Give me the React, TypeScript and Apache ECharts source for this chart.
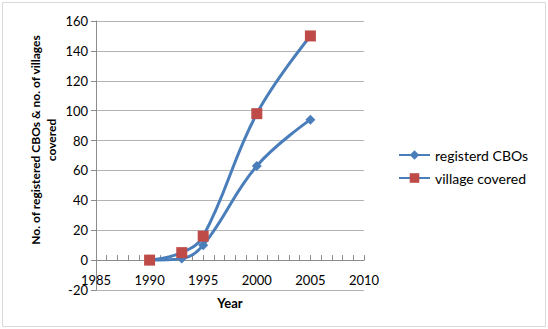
import React, { useEffect, useRef } from "react";
import * as echarts from "echarts";

const years = [1990, 1993, 1995, 2000, 2005];
const registeredCBOs = [0, 1, 10, 63, 94];
const villagesCovered = [0, 5, 16, 98, 150];
const seriesNames = ["registerd CBOs", "village covered"];

const FONT = "Lato, 'Liberation Sans', sans-serif";

// plot box in pixels
const GRID_TOP = 21;
const GRID_BOTTOM = 39;
const Y_MIN = -20;
const Y_MAX = 160;
const PLOT_H = 329 - GRID_TOP - GRID_BOTTOM;
// lift the year axis so it crosses the value axis at zero
const X_AXIS_LIFT = ((0 - Y_MIN) / (Y_MAX - Y_MIN)) * PLOT_H;

export default function App() {
  const ref = useRef<HTMLDivElement>(null);

  useEffect(() => {
    if (!ref.current) return;
    const chart = echarts.init(ref.current, null, { renderer: "svg" });
    const pair = (vals: number[]) => years.map((y, i) => [y, vals[i]]);

    chart.setOption({
      animation: false,
      backgroundColor: "#ffffff",
      textStyle: { fontFamily: FONT },
      grid: { left: 96, top: GRID_TOP, right: 184, bottom: GRID_BOTTOM, containLabel: false },
      xAxis: {
        type: "value",
        min: 1985,
        max: 2010,
        interval: 5,
        offset: -X_AXIS_LIFT,
        axisLine: { onZero: false, lineStyle: { color: "#8c8c8c", width: 1 } },
        axisTick: { show: true, inside: true, length: 5, lineStyle: { color: "#8c8c8c" } },
        minorTick: { show: true, splitNumber: 5, length: 5, lineStyle: { color: "#8c8c8c" } },
        axisLabel: {
          color: "#000",
          fontSize: 13,
          fontFamily: FONT,
          margin: 13,
          formatter: (v: number) => String(v),
        },
        splitLine: { show: false },
      },
      yAxis: {
        type: "value",
        min: Y_MIN,
        max: Y_MAX,
        interval: 20,
        axisLine: { show: true, lineStyle: { color: "#8c8c8c", width: 1 } },
        axisTick: { show: true, inside: false, length: 5, lineStyle: { color: "#8c8c8c" } },
        axisLabel: { color: "#000", fontSize: 13, fontFamily: FONT, margin: 8 },
        splitLine: { show: true, lineStyle: { color: "#b3b3b3", width: 1 } },
      },
      legend: {
        orient: "vertical",
        left: 393,
        top: 143,
        itemWidth: 31,
        itemHeight: 12,
        itemGap: 9,
        textStyle: { fontSize: 14, color: "#000", fontFamily: FONT },
        data: seriesNames,
      },
      series: [
        {
          name: seriesNames[0],
          type: "line",
          data: pair(registeredCBOs),
          smooth: 0.4,
          symbol: "diamond",
          symbolSize: 10,
          lineStyle: { color: "#4a7ebb", width: 3 },
          itemStyle: { color: "#4a7ebb" },
        },
        {
          name: seriesNames[1],
          type: "line",
          data: pair(villagesCovered),
          smooth: 0.4,
          symbol: "rect",
          symbolSize: 11,
          lineStyle: { color: "#4a7ebb", width: 3 },
          itemStyle: { color: "#be4b48" },
        },
      ],
      graphic: [
        {
          type: "rect",
          shape: { x: 2.5, y: 2.5, width: 543, height: 324 },
          style: { fill: "none", stroke: "#d9d9d9", lineWidth: 1 },
          silent: true,
        },
        {
          type: "text",
          x: 43,
          y: 140,
          rotation: Math.PI / 2,
          style: {
            text: "No. of registered CBOs & no. of villages\ncovered",
            fontFamily: FONT,
            fontSize: 12,
            fontWeight: "bold",
            fill: "#000",
            align: "center",
            verticalAlign: "middle",
            lineHeight: 16,
          },
        },
        {
          type: "text",
          x: 230,
          y: 303,
          style: {
            text: "Year",
            fontFamily: FONT,
            fontSize: 13,
            fontWeight: "bold",
            fill: "#000",
            align: "center",
            verticalAlign: "middle",
          },
        },
      ],
    });

    return () => chart.dispose();
  }, []);

  return (
    <div
      ref={ref}
      style={{ position: "fixed", left: 0, top: 0, width: 548, height: 329 }}
    />
  );
}
